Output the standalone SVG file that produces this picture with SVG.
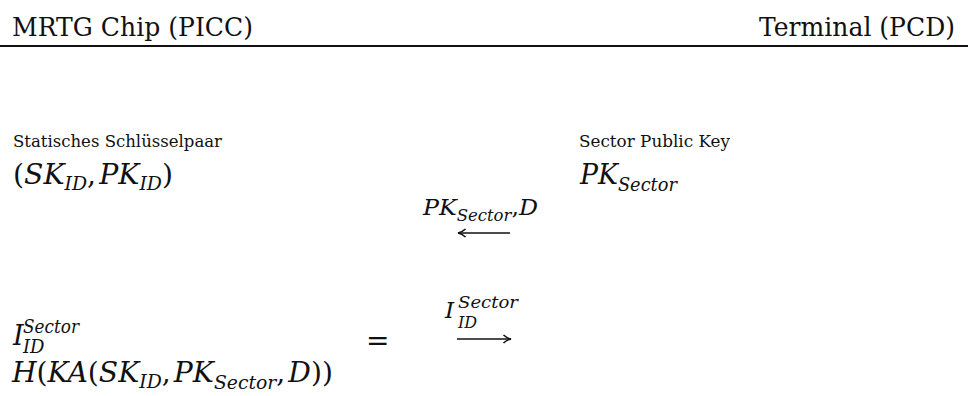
<svg xmlns="http://www.w3.org/2000/svg" width="968" height="396" viewBox="0 0 968 396">
  <style>
    .hdr { font-family: "DejaVu Serif", serif; font-size: 26px; fill: #111; }
    .lbl { font-family: "DejaVu Serif", serif; font-size: 17px; fill: #111; }
    .m { font-family: "DejaVu Serif", serif; font-size: 27px; fill: #111; }
    .i { font-style: italic; }
    .s { font-family: "DejaVu Serif", serif; font-size: 18px; font-style: italic; fill: #111; }
    .wire { stroke: #111; stroke-width: 1.7; fill: none; }
  </style>
  <defs>
    <marker id="head" viewBox="0 0 10 10" refX="9" refY="5" markerWidth="10" markerHeight="10" markerUnits="userSpaceOnUse" orient="auto">
      <path d="M1.5,1 Q5,4.2 9,5 Q5,5.8 1.5,9" fill="none" stroke="#111" stroke-width="1.6"/>
    </marker>
  </defs>

  <g id="header">
    <text class="hdr" x="12" y="36" textLength="241" lengthAdjust="spacingAndGlyphs">MRTG Chip (PICC)</text>
    <text class="hdr" x="759" y="36" textLength="196" lengthAdjust="spacingAndGlyphs">Terminal (PCD)</text>
    <line x1="0" y1="46" x2="968" y2="46" stroke="#111" stroke-width="2"/>
  </g>

  <g id="chip-keypair">
    <text class="lbl" x="13" y="147" textLength="209" lengthAdjust="spacingAndGlyphs">Statisches Schlüsselpaar</text>
    <text class="m" x="13" y="184" textLength="160" lengthAdjust="spacingAndGlyphs">(<tspan class="i">SK</tspan><tspan class="s" dy="6">ID</tspan><tspan dy="-6">,</tspan><tspan class="i" dx="3">PK</tspan><tspan class="s" dy="6">ID</tspan><tspan dy="-6">)</tspan></text>
  </g>

  <g id="terminal-key">
    <text class="lbl" x="579" y="147" textLength="151" lengthAdjust="spacingAndGlyphs">Sector Public Key</text>
    <text class="m i" x="580" y="184" textLength="97" lengthAdjust="spacingAndGlyphs">PK<tspan class="s" dy="7">Sector</tspan></text>
  </g>

  <g id="chip-result">
    <text class="m i" x="13" y="345">I</text>
    <text class="s" x="23" y="333" textLength="56" lengthAdjust="spacingAndGlyphs">Sector</text>
    <text class="s" x="23" y="353">ID</text>
    <text class="m" x="12" y="382" textLength="321" lengthAdjust="spacingAndGlyphs"><tspan class="i">H</tspan>(<tspan class="i">KA</tspan>(<tspan class="i">SK</tspan><tspan class="s" dy="6">ID</tspan><tspan dy="-6">,</tspan><tspan class="i" dx="3">PK</tspan><tspan class="s" dy="7">Sector</tspan><tspan dy="-7">,</tspan><tspan class="i" dx="3">D</tspan>))</text>
    <text class="m" x="366" y="350" style="font-size:28px">=</text>
  </g>

  <g id="connectors">
    <g id="msg-sector-key">
      <text class="m i" x="423" y="215" style="font-size:23px" textLength="115" lengthAdjust="spacingAndGlyphs">PK<tspan class="s" dy="6" style="font-size:16px">Sector</tspan><tspan dy="-6" style="font-style:normal">,</tspan>D</text>
      <line class="wire" x1="510" y1="233" x2="458" y2="233" marker-end="url(#head)"/>
    </g>
    <g id="msg-identifier">
      <text class="m i" x="445" y="318" style="font-size:23px">I</text>
      <text class="s" x="458" y="308" style="font-size:16px" textLength="60" lengthAdjust="spacingAndGlyphs">Sector</text>
      <text class="s" x="458" y="328" style="font-size:16px">ID</text>
      <line class="wire" x1="457" y1="339" x2="511" y2="339" marker-end="url(#head)"/>
    </g>
  </g>
</svg>
